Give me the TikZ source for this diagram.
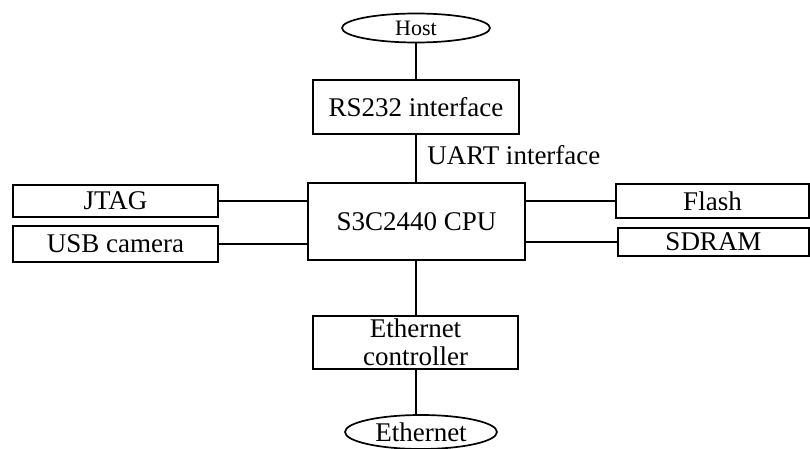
\documentclass[tikz,border=0pt]{standalone}
\usepackage{fontspec}
\setmainfont{Liberation Serif}
\usetikzlibrary{shapes.geometric}
\begin{document}
\begin{tikzpicture}[x=0.5pt,y=-0.5pt,
  box/.style={draw, line width=0.85pt, rectangle, inner sep=0pt, font=\fontsize{13.5}{14}\selectfont},
  oval/.style={draw, line width=0.85pt, ellipse, inner sep=0pt},
  conn/.style={line width=0.85pt}]
\useasboundingbox (0,0) rectangle (810,449);
\node[oval, minimum width=74pt, minimum height=14.5pt, font=\fontsize{11}{12}\selectfont] (host) at (416,28) {Host};
\node[box, minimum width=103pt, minimum height=27pt] (rs) at (416,107) {RS232 interface};
\node[box, minimum width=108.5pt, minimum height=38.5pt] (cpu) at (416.5,221.5) {S3C2440 CPU};
\node[box, minimum width=102.5pt, minimum height=16pt] (jtag) at (115.5,201) {JTAG};
\node[box, minimum width=102.5pt, minimum height=18pt] (usb) at (115.5,244) {USB camera};
\node[box, minimum width=96.5pt, minimum height=17pt] (flash) at (712.5,201) {Flash};
\node[box, minimum width=95.5pt, minimum height=14pt] (sdram) at (713.5,242) {SDRAM};
\node[box, minimum width=102.5pt, minimum height=26.5pt, align=center] (ethc) at (415.5,342.5) {Ethernet\\controller};
\node[oval, minimum width=76pt, minimum height=17pt, font=\fontsize{13.5}{14}\selectfont] (eth) at (421,432) {Ethernet};
\node[anchor=base west, inner sep=0pt, font=\fontsize{13.5}{14}\selectfont] (uart) at (427,165) {UART interface};
\draw[conn] (host.south) -- (rs.north);
\draw[conn] (rs.south) -- (rs.south |- cpu.north);
\draw[conn] (jtag.east) -- (jtag.east -| cpu.west);
\draw[conn] (usb.east) -- (usb.east -| cpu.west);
\draw[conn] (flash.west -| cpu.east) -- (flash.west);
\draw[conn] (sdram.west -| cpu.east) -- (sdram.west);
\draw[conn] (rs.south |- cpu.south) -- (rs.south |- ethc.north);
\draw[conn] (rs.south |- ethc.south) -- (rs.south |- eth.north);
\end{tikzpicture}
\end{document}
